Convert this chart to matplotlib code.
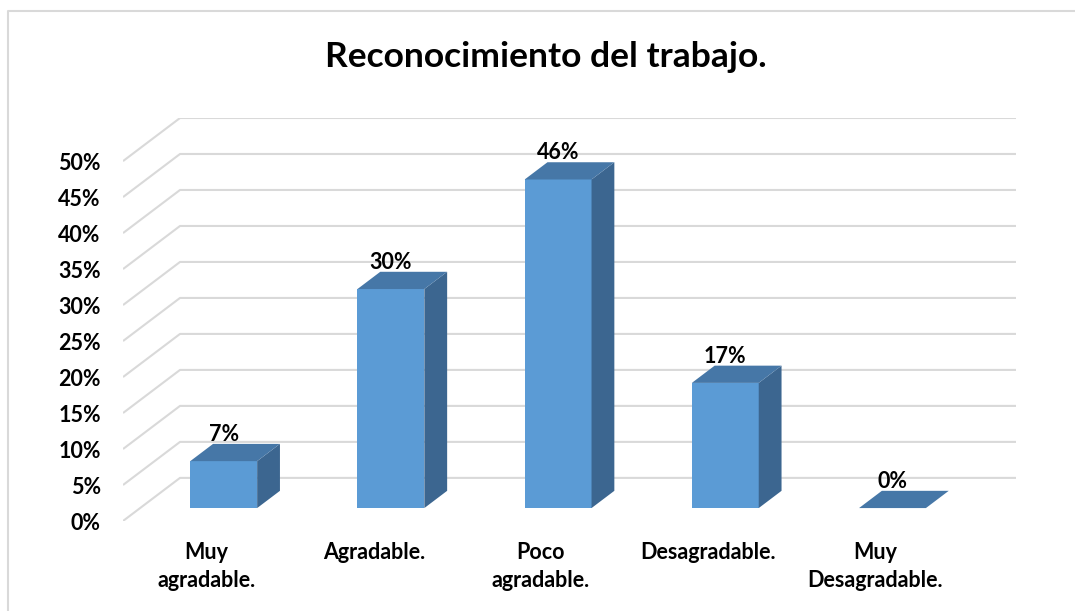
import matplotlib
matplotlib.use("Agg")
import matplotlib.pyplot as plt
from matplotlib.patches import Polygon, Rectangle
from matplotlib.lines import Line2D

# ---- data ----
categories = ["Muy\nagradable.", "Agradable.", "Poco\nagradable.", "Desagradable.", "Muy\nDesagradable."]
values = [0.0652, 0.3043, 0.4565, 0.1739, 0.0]
yticks = [0.0, 0.05, 0.10, 0.15, 0.20, 0.25, 0.30, 0.35, 0.40, 0.45, 0.50]
title = "Reconocimiento del trabajo."

# ---- style ----
FONT = "Lato"
FS = 15.5
front_col = "#5B9BD5"
top_col = "#4677A7"
side_col = "#3C6690"
grid_col = "#D9D9D9"

W, H = 1075, 611
fig = plt.figure(figsize=(W / 100, H / 100), dpi=100)
fig.patch.set_facecolor("white")

# axes region (front plane left/bottom, back wall right/top)
L, R, B, T = 123, 1016, 521, 118
ax = fig.add_axes([L / W, (H - B) / H, (R - L) / W, (B - T) / H])
n = len(categories)
D = 0.341   # depth in category units
E = 0.0599  # depth in value units
ax.set_xlim(0, n + D)
ax.set_ylim(0, 0.5 + E)
for s in ax.spines.values():
    s.set_visible(False)
ax.set_xticks([])
ax.set_yticks(yticks)
ax.set_yticklabels([f"{t:.0%}" for t in yticks], fontfamily=FONT, fontweight="bold", fontsize=FS)
ax.tick_params(axis="y", length=0, pad=16)

# gridlines: diagonal side-wall + back wall
for t in yticks:
    ax.plot([0, D, n + D], [t, t + E, t + E], color=grid_col, lw=1.5, zorder=1,
            solid_capstyle="butt")

f0, f1 = 0.30, 0.70
bw = 0.4
dd = (f1 - f0) * D
de = (f1 - f0) * E
for i, v in enumerate(values):
    xl = i + 0.5 - bw / 2 + f0 * D
    xr = xl + bw
    yb = f0 * E
    yt = yb + v
    if v > 0:
        ax.add_patch(Rectangle((xl, yb), bw, v, facecolor=front_col, edgecolor="none", zorder=3))
        ax.add_patch(Polygon([(xr, yb), (xr + dd, yb + de), (xr + dd, yt + de), (xr, yt)],
                             closed=True, facecolor=side_col, edgecolor="none", zorder=3))
    ax.add_patch(Polygon([(xl, yt), (xr, yt), (xr + dd, yt + de), (xl + dd, yt + de)],
                         closed=True, facecolor=top_col, edgecolor="none", zorder=3))
    ax.annotate(f"{v:.0%}", (xl + bw / 2, yt + de), xytext=(0, 2), textcoords="offset points",
                ha="center", va="baseline", fontfamily=FONT, fontweight="bold", fontsize=FS,
                color="black", zorder=4)

# category labels on front plane
for i, c in enumerate(categories):
    ax.annotate(c, (i + 0.5, 0), xytext=(0, -15), textcoords="offset points",
                ha="center", va="top", fontfamily=FONT, fontweight="bold", fontsize=FS,
                linespacing=1.45, annotation_clip=False)

fig.text(546 / W, 1 - 57 / H, title, ha="center", va="center", fontfamily=FONT,
         fontweight="bold", fontsize=25.5)

# outer border (left & top)
fig.add_artist(Line2D([8 / W, 8 / W, 1.0], [0, 1 - 11 / H, 1 - 11 / H], color="#D9D9D9",
                      lw=1.5, transform=fig.transFigure))

fig.savefig("out.png", dpi=100, facecolor="white")
